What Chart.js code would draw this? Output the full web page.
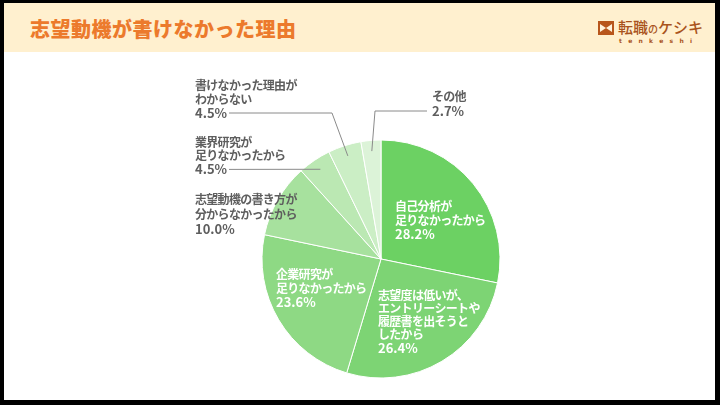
<!DOCTYPE html>
<html>
<head>
<meta charset="utf-8">
<script src="https://cdn.jsdelivr.net/npm/chart.js@4.4.0/dist/chart.umd.min.js"></script>
<style>
  html, body { margin: 0; padding: 0; background: #000; }
  #frame { position: absolute; left: 4px; top: 3px; width: 711px; height: 397px; background: #fff; overflow: hidden; }
  #header { position: absolute; left: 0; top: 0; width: 711px; height: 49px; background: #fff0cf; }
  #title { position: absolute; left: 26px; top: 11px; font: 900 20px "Noto Sans CJK JP", sans-serif; color: #ec7a2c; letter-spacing: 0.5px; }
  #logo { position: absolute; left: 594px; top: 13px; }
  #logo svg { position: absolute; left: 0; top: 5px; }
  #logo .name { position: absolute; left: 20px; top: 0; font: 500 15px "Noto Sans CJK JP", sans-serif; color: #a9531c; white-space: nowrap; }
  #logo .name small { font-size: 10px; }
  #logo .sub { position: absolute; left: 21px; top: 21px; font: 700 6px "DejaVu Sans", sans-serif; color: #a9531c; letter-spacing: 6.3px; }
  #chart { position: absolute; left: 0; top: 0; }
</style>
</head>
<body>
<div id="frame">
  <div id="header">
    <div id="title">志望動機が書けなかった理由</div>
    <div id="logo">
      <svg width="16" height="14" viewBox="0 0 16 14">
        <rect width="16" height="14" fill="#b8561c"/>
        <polygon points="2,3 8,7 2,11" fill="#fff3dc"/>
        <polygon points="14,3 8,7 14,11" fill="#fff3dc"/>
      </svg>
      <div class="name">転職<small>の</small>ケシキ</div>
      <div class="sub">tenkeshi</div>
    </div>
  </div>
</div>
<canvas id="chart" width="720" height="405"></canvas>
<script>
const categories = [
  "自己分析が足りなかったから",
  "志望度は低いが、エントリーシートや履歴書を出そうとしたから",
  "企業研究が足りなかったから",
  "志望動機の書き方が分からなかったから",
  "業界研究が足りなかったから",
  "書けなかった理由がわからない",
  "その他"
];
const values = [28.2, 26.4, 23.6, 10.0, 4.5, 4.5, 2.7];
const colors = ["#6cd163", "#7dd474", "#8ed984", "#a7e19e", "#bbe8b3", "#cbeec5", "#dcf3d8"];

// label lines as they are broken in the picture
const labelLines = [
  ["自己分析が", "足りなかったから"],
  ["志望度は低いが、", "エントリーシートや", "履歴書を出そうと", "したから"],
  ["企業研究が", "足りなかったから"],
  ["志望動機の書き方が", "分からなかったから"],
  ["業界研究が", "足りなかったから"],
  ["書けなかった理由が", "わからない"],
  ["その他"]
];
const insideLabel = [true, true, true, false, false, false, false];

// where each text block sits (first line) and where its leader line turns
const labelPos = [
  { x: 395, y: 206, gap: 14 },
  { x: 378, y: 295, gap: 13.3 },
  { x: 276, y: 274, gap: 14 },
  { x: 195, y: 199, gap: 15 },
  { x: 195, y: 142, gap: 13.7 },
  { x: 195, y: 85, gap: 14 },
  { x: 432, y: 96, gap: 15 }
];
const leader = [null, null, null, null,
  { from: 229, turn: null },
  { from: 229, turn: 332 },
  { from: 427, turn: 375 }
];

const labelPlugin = {
  id: "labels",
  afterDatasetsDraw(chart) {
    const ctx = chart.ctx;
    const arcs = chart.getDatasetMeta(0).data;
    ctx.save();
    ctx.textBaseline = "middle";
    ctx.textAlign = "left";
    arcs.forEach((arc, i) => {
      const p = labelPos[i];
      const lines = labelLines[i].concat([values[i].toFixed(1) + "%"]);
      ctx.fillStyle = insideLabel[i] ? "#ffffff" : "#5e5e5e";
      lines.forEach((t, k) => {
        const isNum = k === lines.length - 1;
        ctx.font = (isNum ? "bold 13px" : "bold 12px") + ' "Noto Sans CJK JP", "DejaVu Sans", sans-serif';
        ctx.letterSpacing = isNum ? "0px" : "-0.7px";
        ctx.fillText(t, p.x, p.y + k * p.gap);
      });
      ctx.letterSpacing = "0px";
      const l = leader[i];
      if (l) {
        const { startAngle, endAngle, outerRadius, x, y } = arc.getProps(["startAngle", "endAngle", "outerRadius", "x", "y"], true);
        const mid = (startAngle + endAngle) / 2;
        const ex = x + Math.cos(mid) * outerRadius * 0.91;
        const ey = y + Math.sin(mid) * outerRadius * 0.91;
        const ly = p.y + (lines.length - 1) * p.gap;
        ctx.strokeStyle = "#8a8a8a";
        ctx.lineWidth = 1;
        ctx.beginPath();
        ctx.moveTo(l.from, ly);
        if (l.turn !== null) ctx.lineTo(l.turn, ly);
        ctx.lineTo(ex, ey);
        ctx.stroke();
      }
    });
    ctx.restore();
  }
};

new Chart(document.getElementById("chart"), {
  type: "pie",
  data: {
    labels: categories,
    datasets: [{
      data: values,
      backgroundColor: colors,
      borderColor: "#ffffff",
      borderWidth: 1,
      radius: 119,
      hoverOffset: 0
    }]
  },
  options: {
    responsive: false,
    animation: false,
    layout: { padding: { left: 42, right: 0, top: 113, bottom: 0 } },
    plugins: {
      legend: { display: false },
      tooltip: { enabled: false }
    }
  },
  plugins: [labelPlugin]
});
</script>
</body>
</html>
